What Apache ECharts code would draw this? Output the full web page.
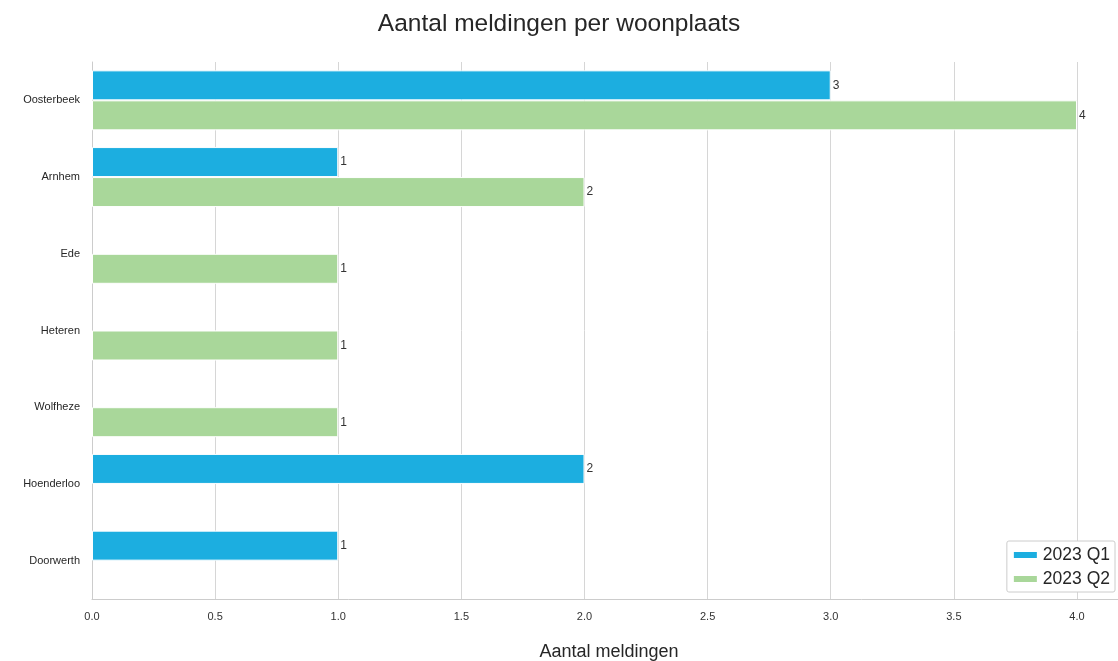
<!DOCTYPE html>
<html><head><meta charset="utf-8">
<script src="https://cdn.jsdelivr.net/npm/echarts@6/dist/echarts.min.js"></script>
<style>html,body{margin:0;padding:0;background:#fff}#c{width:1118px;height:661px}</style>
</head><body><div id="c"></div>
<script>
const categories = ['Oosterbeek','Arnhem','Ede','Heteren','Wolfheze','Hoenderloo','Doorwerth'];
const q1Values = [3, 1, null, null, null, 2, 1];
const q2Values = [4, 2, 1, 1, 1, null, null];
const seriesNames = ['2023 Q1','2023 Q2'];
const xTicks = ['0.0','0.5','1.0','1.5','2.0','2.5','3.0','3.5','4.0'];

const chart = echarts.init(document.getElementById('c'));
const font = 'Arial, "Liberation Sans", sans-serif';
const labelCfg = {show:true, position:'right', distance:2, color:'#333', fontSize:12, fontFamily:font};
chart.setOption({
  animation:false,
  title:{text:'Aantal meldingen per woonplaats', left:'center', top:7, padding:[5,0,5,100],
    textStyle:{fontSize:24.5, fontWeight:'normal', color:'#262626', fontFamily:font}},
  legend:{right:3, bottom:69, orient:'vertical', itemWidth:25, itemHeight:8, itemGap:6,
    padding:[5,5,4,5], borderColor:'#ccc', borderWidth:1, backgroundColor:'#fff', borderRadius:2,
    textStyle:{fontSize:17.5, color:'#262626', fontFamily:font},
    data:seriesNames.map(n=>({name:n, icon:'rect'}))},
  grid:{left:92, right:0, top:62, bottom:62, containLabel:false, outerBoundsMode:'none'},
  xAxis:{type:'value', min:0, max:4.1665, interval:0.5,
    name:'Aantal meldingen', nameLocation:'middle', nameGap:44,
    nameTextStyle:{fontSize:18, color:'#262626', fontFamily:font, padding:[0,0,0,8]},
    axisLine:{show:true, lineStyle:{color:'#ccc'}}, axisTick:{show:false},
    axisLabel:{color:'#333', fontSize:11, fontFamily:font, margin:12, showMaxLabel:false,
      formatter:v=>{const i=Math.round(v/0.5); return xTicks[i]!==undefined && Math.abs(v-i*0.5)<1e-6 ? xTicks[i] : '';}},
    splitLine:{show:true, lineStyle:{color:'#d6d6d6'}}},
  yAxis:{type:'category', data:categories, inverse:true,
    axisLine:{show:true, lineStyle:{color:'#ccc'}}, axisTick:{show:false},
    axisLabel:{color:'#262626', fontSize:11, fontFamily:font, margin:12},
    splitLine:{show:false}},
  series:[
    {name:seriesNames[0], type:'bar', data:q1Values, barWidth:30, barGap:'0%',
     itemStyle:{color:'#1caee0', borderColor:'#fff', borderWidth:1}, label:labelCfg},
    {name:seriesNames[1], type:'bar', data:q2Values, barWidth:30, barGap:'0%',
     itemStyle:{color:'#a9d79a', borderColor:'#fff', borderWidth:1}, label:labelCfg}
  ]
});
</script></body></html>
